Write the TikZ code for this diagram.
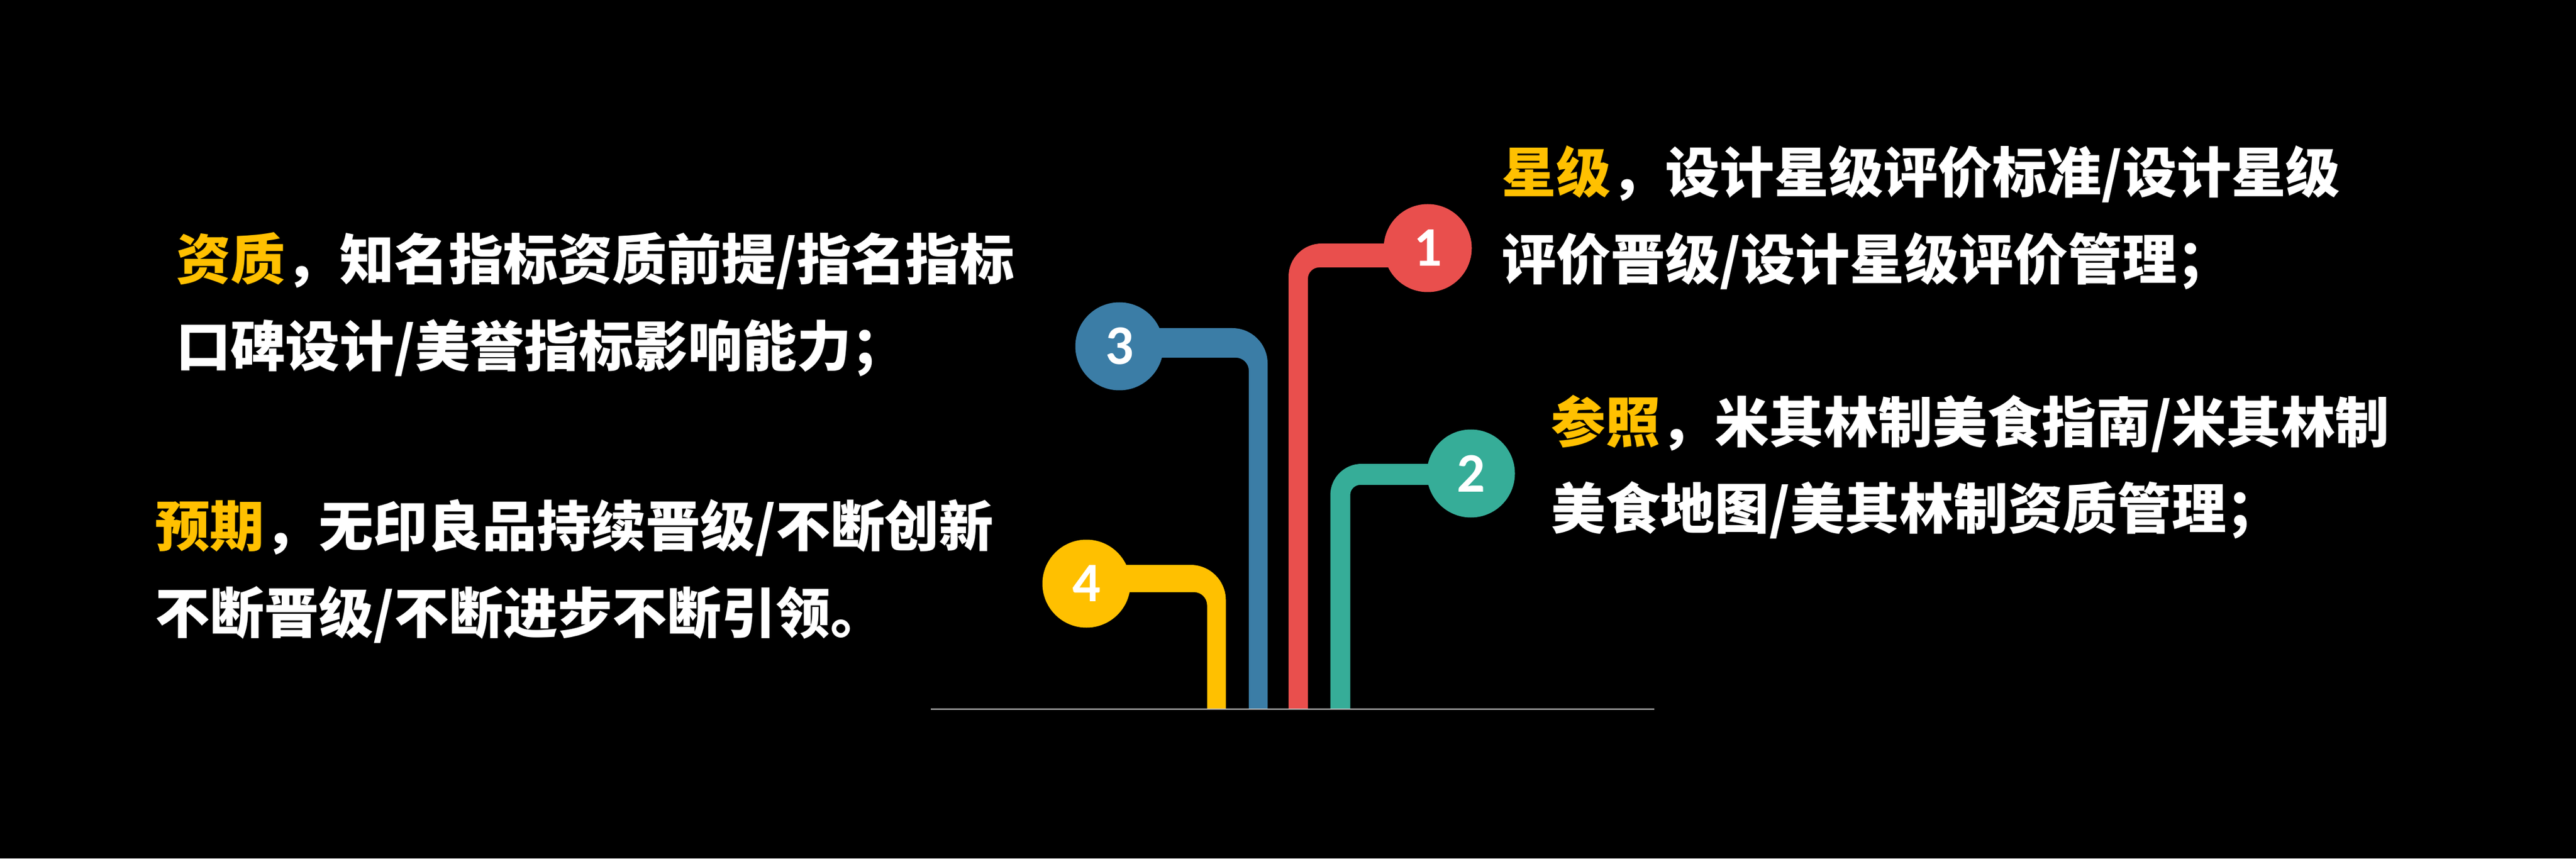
\documentclass[tikz,border=0pt]{standalone}
\usepackage{fontspec}
\newfontfamily\cjk{Noto Sans CJK SC}
\newfontfamily\numfont{Carlito}
\usepackage{tikz}
\usetikzlibrary{calc}

\definecolor{barred}{RGB}{233,79,77}
\definecolor{barteal}{RGB}{54,173,152}
\definecolor{barblue}{RGB}{59,125,166}
\definecolor{baryellow}{RGB}{255,192,0}
\definecolor{gold}{RGB}{255,192,0}

\tikzset{
  dot/.style={circle, inner sep=0pt, minimum size=1.55cm, text=white,
    font=\numfont\bfseries\fontsize{28}{28}\selectfont},
  txt/.style={anchor=west, inner sep=0pt, align=left, text=white,
    font=\cjk\bfseries\fontsize{27.3}{43.5}\selectfont},
  groundline/.style={line width=0.4pt, draw=black!25}
}

\begin{document}
\begin{tikzpicture}
    \fill[black] (0,0) rectangle (45.36,15.12);
    \useasboundingbox (0,0) rectangle (45.36,15.12);
    % feet on the ground line and centres of the numbered dots
    \coordinate (f1) at (22.86,2.63);  \coordinate (p1) at (25.14,10.75);
    \coordinate (f2) at (23.60,2.63);  \coordinate (p2) at (25.90,6.78);
    \coordinate (f3) at (22.155,2.63); \coordinate (p3) at (19.71,9.02);
    \coordinate (f4) at (21.42,2.63);  \coordinate (p4) at (19.13,4.84);
    \coordinate (gl) at (16.39,2.63);  \coordinate (gr) at (29.13,2.63);
    % bars
    \fill[barred, rounded corners=0.58cm] ($(f1)+(-0.17,0.5)$) |- ($(p1)+(0,0.08)$)
      -- ($(p1)+(0,-0.34)$) [rounded corners=0.2cm] -| ($(f1)+(0.17,0.5)$)
      [sharp corners] -- ($(f1)+(0.17,0)$) -- ($(f1)+(-0.17,0)$) -- cycle;
    \fill[barteal, rounded corners=0.55cm] ($(f2)+(-0.175,0.5)$) |- ($(p2)+(0,0.17)$)
      -- ($(p2)+(0,-0.20)$) [rounded corners=0.18cm] -| ($(f2)+(0.175,0.5)$)
      [sharp corners] -- ($(f2)+(0.175,0)$) -- ($(f2)+(-0.175,0)$) -- cycle;
    \fill[barblue, rounded corners=0.62cm] ($(f3)+(0.165,0.5)$) |- ($(p3)+(0,0.32)$)
      -- ($(p3)+(0,-0.20)$) [rounded corners=0.23cm] -| ($(f3)+(-0.165,0.5)$)
      [sharp corners] -- ($(f3)+(-0.165,0)$) -- ($(f3)+(0.165,0)$) -- cycle;
    \fill[baryellow, rounded corners=0.62cm] ($(f4)+(0.165,0.5)$) |- ($(p4)+(0,0.33)$)
      -- ($(p4)+(0,-0.15)$) [rounded corners=0.23cm] -| ($(f4)+(-0.165,0.5)$)
      [sharp corners] -- ($(f4)+(-0.165,0)$) -- ($(f4)+(0.165,0)$) -- cycle;
    \draw[groundline] (gl) -- (gr);
    % dots
    \node[dot, fill=barred] (n1) at (p1) {1};
    \node[dot, fill=barteal] (n2) at (p2) {2};
    \node[dot, fill=barblue] (n3) at (p3) {3};
    \node[dot, fill=baryellow] (n4) at (p4) {4};
    % texts
    \node[txt] (zizhi) at (3.10,9.755) {\textcolor{gold}{资质}，知名指标资质前提/指名指标\\口碑设计/美誉指标影响能力；};
    \node[txt] (yuqi) at (2.73,5.06) {\textcolor{gold}{预期}，无印良品持续晋级/不断创新\\不断晋级/不断进步不断引领。};
    \node[txt] (xingji) at (26.44,11.29) {\textcolor{gold}{星级}，设计星级评价标准/设计星级\\评价晋级/设计星级评价管理；};
    \node[txt] (canzhao) at (27.31,6.895) {\textcolor{gold}{参照}，米其林制美食指南/米其林制\\美食地图/美其林制资质管理；};
\end{tikzpicture}
\end{document}
